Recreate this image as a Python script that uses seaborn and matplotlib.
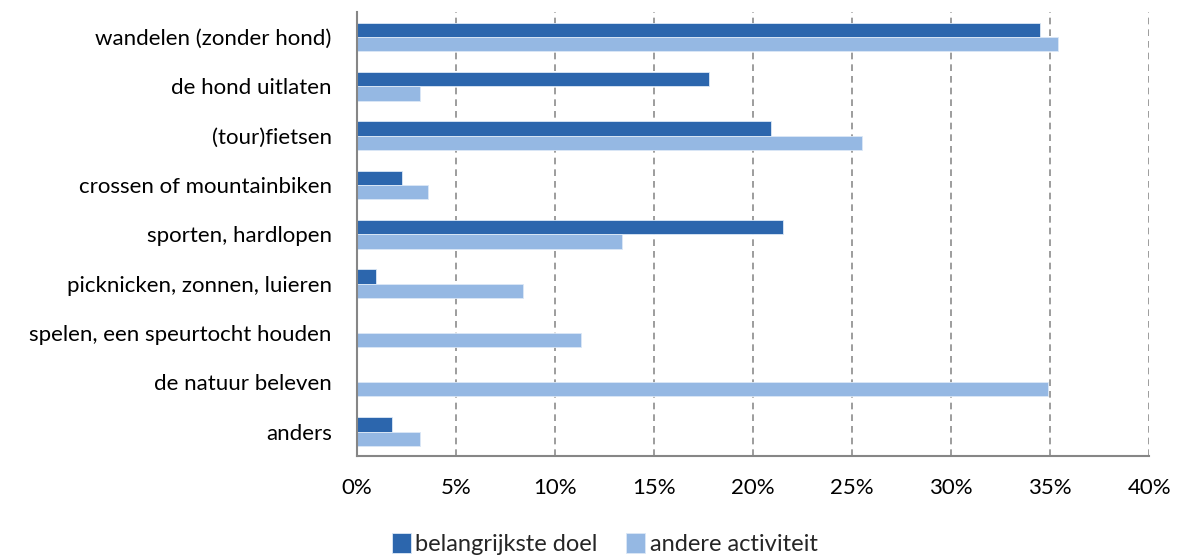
import matplotlib
matplotlib.use("Agg")
import matplotlib.pyplot as plt
import seaborn as sns
import pandas as pd
from matplotlib.ticker import FuncFormatter, MultipleLocator

categories = [
    "wandelen (zonder hond)",
    "de hond uitlaten",
    "(tour)fietsen",
    "crossen of mountainbiken",
    "sporten, hardlopen",
    "picknicken, zonnen, luieren",
    "spelen, een speurtocht houden",
    "de natuur beleven",
    "anders",
]
belangrijkste_doel = [34.5, 17.8, 20.9, 2.3, 21.5, 1.0, 0.0, 0.0, 1.8]
andere_activiteit = [35.4, 3.2, 25.5, 3.6, 13.4, 8.4, 11.3, 34.9, 3.2]
series_names = ["belangrijkste doel", "andere activiteit"]
colors = ["#2C66AD", "#95B8E3"]

df = pd.DataFrame({
    "categorie": categories * 2,
    "waarde": belangrijkste_doel + andere_activiteit,
    "reeks": [series_names[0]] * len(categories) + [series_names[1]] * len(categories),
})

sns.set_theme(style="white")
plt.rcParams["font.family"] = ["Lato", "DejaVu Sans"]

fig = plt.figure(figsize=(11.81, 5.57), dpi=100)
ax = fig.add_axes([0.302, 0.181, 0.671, 0.797])

sns.barplot(data=df, x="waarde", y="categorie", hue="reeks", order=categories,
            hue_order=series_names, palette=colors, saturation=1, width=0.58,
            orient="h", edgecolor="#dce8f6", linewidth=0.6, ax=ax, legend=True)

ax.set_xlim(0, 40)
ax.set_ylim(len(categories) - 0.5, -0.5)
ax.xaxis.set_major_locator(MultipleLocator(5))
ax.xaxis.set_major_formatter(FuncFormatter(lambda v, p: f"{v:.0f}%"))
ax.grid(axis="x", color="#8c8c8c", linestyle=(0, (4, 3)), linewidth=1.2)
ax.set_axisbelow(True)
ax.set_xlabel("")
ax.set_ylabel("")

for side in ["top", "right"]:
    ax.spines[side].set_visible(False)
for side in ["left", "bottom"]:
    ax.spines[side].set_color("#868686")
    ax.spines[side].set_linewidth(1.5)

ax.tick_params(axis="x", labelsize=16, pad=16, length=0, colors="black")
ax.tick_params(axis="y", labelsize=16, pad=18, length=0, colors="black")

handles, labels = ax.get_legend_handles_labels()
ax.legend_.remove()
fig.legend(handles, labels, loc="lower center", bbox_to_anchor=(0.512, -0.035), ncol=2,
           frameon=False, fontsize=17, handlelength=0.8, handleheight=0.9,
           handletextpad=0.2, columnspacing=1.2)

fig.savefig("out.png", dpi=100)
